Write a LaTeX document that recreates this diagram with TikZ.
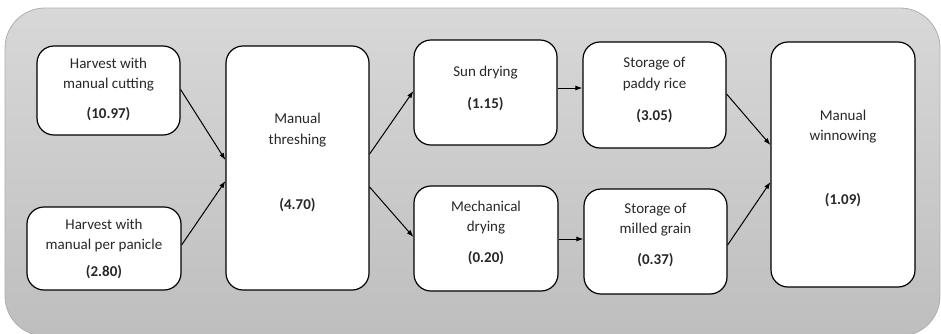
\documentclass[tikz,border=0pt]{standalone}
\usepackage{fontspec}
\setmainfont{Carlito}
\usetikzlibrary{arrows.meta,calc}
\definecolor{bgtop}{RGB}{216,216,216}
\definecolor{bgbot}{RGB}{190,190,190}
\definecolor{bgedge}{RGB}{175,175,175}
\definecolor{txtc}{RGB}{40,40,40}
\tikzset{
  stagebox/.style={draw=black, line width=1.2pt, fill=white, rounded corners=17pt, inner sep=0pt},
  stagetext/.style={inner sep=0pt, align=center, text=txtc, font=\fontsize{15}{20.5}\selectfont},
  flow/.style={-{Latex[length=7pt,width=5pt]}, line width=1pt, black},
}
\newcommand{\boxat}[7]{% name, x1, y1, x2, y2, text offset, text
  \node[stagebox, minimum width={#4-#2}, minimum height={#5-#3}] (#1) at ({(#2+#4)/2},{(#3+#5)/2}) {};
  \node[stagetext] (#1-t) at ($(#1.center)+(0,#6)$) {#7};}
\begin{document}
\begin{tikzpicture}[x=1pt,y=-1pt]
\useasboundingbox (0,0) rectangle (941,333);
\clip (0,0) rectangle (941,333);
\shade[top color=bgtop, bottom color=bgbot, draw=bgedge, line width=0.8pt, rounded corners=40pt]
  (5,8) rectangle (940,336);
\boxat{cut}{37}{46}{180}{135}{-1}{Harvest with\\manual cutting\\[9.5pt]\textbf{(10.97)}}
\boxat{pan}{27}{207}{181}{290}{0.5}{Harvest with\\manual per panicle\\[6.5pt]\textbf{(2.80)}}
\boxat{thr}{226}{46}{369}{290}{-5.5}{Manual\\threshing\\[44.5pt]\textbf{(4.70)}}
\boxat{sun}{414}{40}{557}{145}{-4.5}{Sun drying\\[11.5pt]\textbf{(1.15)}}
\boxat{mec}{414}{186}{558}{291}{-5.5}{Mechanical\\drying\\[10.5pt]\textbf{(0.20)}}
\boxat{pad}{583}{42}{726}{148}{-5}{Storage of\\paddy rice\\[11.5pt]\textbf{(3.05)}}
\boxat{mil}{584}{189}{727}{294}{-6.5}{Storage of\\milled grain\\[10.5pt]\textbf{(0.37)}}
\boxat{win}{771}{42}{915}{287}{-6}{Manual\\winnowing\\[43.5pt]\textbf{(1.09)}}
\draw[flow] ($(cut.east)+(0,-1)$) -- ($(thr.west)+(0,-8)$);
\draw[flow] ($(pan.east)+(0,-3.5)$) -- ($(thr.west)+(0,13)$);
\draw[flow] ($(thr.east)+(0,-14)$) -- ($(sun.west)+(0,-1.5)$);
\draw[flow] ($(thr.east)+(0,19)$) -- ($(mec.west)+(0,-1.5)$);
\draw[flow] ($(sun.east)+(0,-4.5)$) -- ($(pad.west)+(0,-7)$);
\draw[flow] ($(mec.east)+(0,0.5)$) -- ($(mil.west)+(0,-2.5)$);
\draw[flow] ($(pad.east)+(0,-1)$) -- ($(win.west)+(0,-19.5)$);
\draw[flow] ($(mil.east)+(0,3.5)$) -- ($(win.west)+(0,17.5)$);
\end{tikzpicture}
\end{document}
